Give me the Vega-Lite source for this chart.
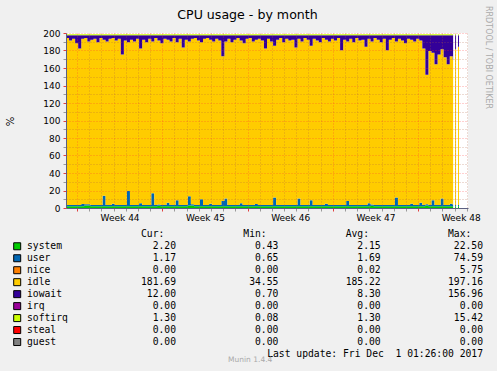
{
"$schema": "https://vega.github.io/schema/vega-lite/v6.json",
"width": 402, "height": 175,
"autosize": {"type": "none"},
"padding": {"left": 66, "top": 33, "right": 29, "bottom": 163},
"background": "#f0f0f0",
"title": {"text": "CPU usage - by month", "font": "DejaVu Sans", "fontSize": 12.6, "fontWeight": "normal", "color": "#000000", "anchor": "middle", "dx": -19.5, "dy": 13.8, "offset": -12.5, "baseline": "alphabetic"},
"config": {"view": {"stroke": null, "fill": "#ffffff"}, "font": "DejaVu Sans"},
"datasets": {
"series": [
{"name": "system", "idx": 0, "cur": 2.20, "min": 0.43, "avg": 2.15, "max": 22.50},
{"name": "user", "idx": 1, "cur": 1.17, "min": 0.65, "avg": 1.69, "max": 74.59},
{"name": "nice", "idx": 2, "cur": 0.00, "min": 0.00, "avg": 0.02, "max": 5.75},
{"name": "idle", "idx": 3, "cur": 181.69, "min": 34.55, "avg": 185.22, "max": 197.16},
{"name": "iowait", "idx": 4, "cur": 12.00, "min": 0.70, "avg": 8.30, "max": 156.96},
{"name": "irq", "idx": 5, "cur": 0.00, "min": 0.00, "avg": 0.00, "max": 0.00},
{"name": "softirq", "idx": 6, "cur": 1.30, "min": 0.08, "avg": 1.30, "max": 15.42},
{"name": "steal", "idx": 7, "cur": 0.00, "min": 0.00, "avg": 0.00, "max": 0.00},
{"name": "guest", "idx": 8, "cur": 0.00, "min": 0.00, "avg": 0.00, "max": 0.00}
],
"heads": [{"col": "cur", "label": "Cur:"}, {"col": "min", "label": "Min:"}, {"col": "avg", "label": "Avg:"}, {"col": "max", "label": "Max:"}],
"foot": [{"label": "Last update: Fri Dec\u00a0 1 01:26:00 2017"}],
"brand": [{"label": "Munin 1.4.4"}],
"cpu": [
{"t":-0.9,"system":2,"user":1.4,"idle":191,"iowait":3,"softirq":1.3},
{"t":-0.65,"system":2,"user":1.4,"idle":188,"iowait":6,"softirq":1.3},
{"t":-0.4,"system":2,"user":1.4,"idle":190,"iowait":4,"softirq":1.3},
{"t":-0.15,"system":2,"user":1.4,"idle":185,"iowait":9,"softirq":1.3},
{"t":0.1,"system":2,"user":1.4,"idle":179,"iowait":15,"softirq":1.3},
{"t":0.35,"system":2,"user":2.5,"idle":188.9,"iowait":4,"softirq":1.3},
{"t":0.6,"system":3,"user":1.4,"idle":190,"iowait":3,"softirq":1.3},
{"t":0.85,"system":3,"user":1.4,"idle":186,"iowait":7,"softirq":1.3},
{"t":1.1,"system":2,"user":1.4,"idle":189,"iowait":5,"softirq":1.3},
{"t":1.35,"system":2,"user":1.4,"idle":190,"iowait":4,"softirq":1.3},
{"t":1.6,"system":2,"user":1.4,"idle":186,"iowait":8,"softirq":1.3},
{"t":1.85,"system":2,"user":1.4,"idle":191,"iowait":3,"softirq":1.3},
{"t":2.1,"system":2,"user":12,"idle":178.4,"iowait":5,"softirq":1.3},
{"t":2.35,"system":2,"user":1.4,"idle":187,"iowait":7,"softirq":1.3},
{"t":2.6,"system":2,"user":1.4,"idle":190,"iowait":4,"softirq":1.3},
{"t":2.85,"system":2,"user":3,"idle":189.4,"iowait":3,"softirq":1.3},
{"t":3.1,"system":2,"user":1.4,"idle":188,"iowait":6,"softirq":1.3},
{"t":3.35,"system":2,"user":1.4,"idle":190,"iowait":4,"softirq":1.3},
{"t":3.6,"system":2,"user":1.4,"idle":172,"iowait":22,"softirq":1.3},
{"t":3.85,"system":2,"user":1.4,"idle":188,"iowait":6,"softirq":1.3},
{"t":4.1,"system":2,"user":17.5,"idle":169.9,"iowait":8,"softirq":1.3},
{"t":4.35,"system":2,"user":1.4,"idle":189,"iowait":5,"softirq":1.3},
{"t":4.6,"system":2,"user":1.4,"idle":187,"iowait":7,"softirq":1.3},
{"t":4.85,"system":2,"user":1.4,"idle":190,"iowait":4,"softirq":1.3},
{"t":5.1,"system":2,"user":3.5,"idle":176.9,"iowait":15,"softirq":1.3},
{"t":5.35,"system":2,"user":1.4,"idle":189,"iowait":5,"softirq":1.3},
{"t":5.6,"system":2,"user":1.4,"idle":186,"iowait":8,"softirq":1.3},
{"t":5.85,"system":2,"user":1.4,"idle":190,"iowait":4,"softirq":1.3},
{"t":6.1,"system":2,"user":15,"idle":173.4,"iowait":7,"softirq":1.3},
{"t":6.35,"system":2,"user":1.4,"idle":191,"iowait":3,"softirq":1.3},
{"t":6.6,"system":2.6,"user":1.4,"idle":187.4,"iowait":6,"softirq":1.3},
{"t":6.85,"system":2,"user":1.4,"idle":185,"iowait":9,"softirq":1.3},
{"t":7.1,"system":2,"user":1.4,"idle":190,"iowait":4,"softirq":1.3},
{"t":7.35,"system":2,"user":4,"idle":186.4,"iowait":5,"softirq":1.3},
{"t":7.6,"system":2,"user":1.4,"idle":187,"iowait":7,"softirq":1.3},
{"t":7.85,"system":2,"user":1.4,"idle":191,"iowait":3,"softirq":1.3},
{"t":8.1,"system":2,"user":7,"idle":180.4,"iowait":8,"softirq":1.3},
{"t":8.35,"system":2,"user":1.4,"idle":190,"iowait":4,"softirq":1.3},
{"t":8.6,"system":2,"user":1.4,"idle":180,"iowait":14,"softirq":1.3},
{"t":8.85,"system":2,"user":1.4,"idle":189,"iowait":5,"softirq":1.3},
{"t":9.1,"system":3,"user":10.5,"idle":176.9,"iowait":7,"softirq":1.3},
{"t":9.35,"system":2.8,"user":1.4,"idle":189.2,"iowait":4,"softirq":1.3},
{"t":9.6,"system":2,"user":1.4,"idle":191,"iowait":3,"softirq":1.3},
{"t":9.85,"system":2,"user":1.4,"idle":188,"iowait":6,"softirq":1.3},
{"t":10.1,"system":2,"user":8,"idle":179.4,"iowait":8,"softirq":1.3},
{"t":10.35,"system":2,"user":1.4,"idle":190,"iowait":4,"softirq":1.3},
{"t":10.6,"system":2,"user":1.4,"idle":191,"iowait":3,"softirq":1.3},
{"t":10.85,"system":2,"user":3,"idle":187.4,"iowait":5,"softirq":1.3},
{"t":11.1,"system":2,"user":1.4,"idle":187,"iowait":7,"softirq":1.3},
{"t":11.35,"system":2,"user":1.4,"idle":190,"iowait":4,"softirq":1.3},
{"t":11.6,"system":2,"user":1.4,"idle":188,"iowait":6,"softirq":1.3},
{"t":11.85,"system":2,"user":6,"idle":165.4,"iowait":24,"softirq":1.3},
{"t":12.1,"system":2,"user":9,"idle":179.4,"iowait":7,"softirq":1.3},
{"t":12.35,"system":2,"user":1.4,"idle":190,"iowait":4,"softirq":1.3},
{"t":12.6,"system":2,"user":1.4,"idle":186,"iowait":8,"softirq":1.3},
{"t":12.85,"system":2,"user":1.4,"idle":189,"iowait":5,"softirq":1.3},
{"t":13.1,"system":2,"user":1.4,"idle":191,"iowait":3,"softirq":1.3},
{"t":13.35,"system":2,"user":3.5,"idle":185.9,"iowait":6,"softirq":1.3},
{"t":13.6,"system":2,"user":1.4,"idle":185,"iowait":9,"softirq":1.3},
{"t":13.85,"system":2,"user":1.4,"idle":190,"iowait":4,"softirq":1.3},
{"t":14.1,"system":2,"user":1.4,"idle":191,"iowait":3,"softirq":1.3},
{"t":14.35,"system":2,"user":1.4,"idle":187,"iowait":7,"softirq":1.3},
{"t":14.6,"system":2,"user":2.5,"idle":187.9,"iowait":5,"softirq":1.3},
{"t":14.85,"system":2,"user":1.4,"idle":190,"iowait":4,"softirq":1.3},
{"t":15.1,"system":2,"user":1.4,"idle":188,"iowait":6,"softirq":1.3},
{"t":15.35,"system":2,"user":1.4,"idle":179,"iowait":15,"softirq":1.3},
{"t":15.6,"system":2,"user":1.4,"idle":190,"iowait":4,"softirq":1.3},
{"t":15.85,"system":2,"user":1.4,"idle":187,"iowait":7,"softirq":1.3},
{"t":16.1,"system":2,"user":10,"idle":173.4,"iowait":12,"softirq":1.3},
{"t":16.35,"system":2,"user":1.4,"idle":189,"iowait":5,"softirq":1.3},
{"t":16.6,"system":2,"user":1.4,"idle":191,"iowait":3,"softirq":1.3},
{"t":16.85,"system":2,"user":1.4,"idle":186,"iowait":8,"softirq":1.3},
{"t":17.1,"system":2,"user":1.4,"idle":190,"iowait":4,"softirq":1.3},
{"t":17.35,"system":2,"user":1.4,"idle":188,"iowait":6,"softirq":1.3},
{"t":17.6,"system":2,"user":1.4,"idle":189,"iowait":5,"softirq":1.3},
{"t":17.85,"system":2,"user":1.4,"idle":180,"iowait":14,"softirq":1.3},
{"t":18.1,"system":2,"user":9,"idle":182.4,"iowait":4,"softirq":1.3},
{"t":18.35,"system":2,"user":1.4,"idle":187,"iowait":7,"softirq":1.3},
{"t":18.6,"system":2,"user":1.4,"idle":191,"iowait":3,"softirq":1.3},
{"t":18.85,"system":2,"user":1.4,"idle":189,"iowait":5,"softirq":1.3},
{"t":19.1,"system":2,"user":7,"idle":176.4,"iowait":12,"softirq":1.3},
{"t":19.35,"system":2,"user":1.4,"idle":190,"iowait":4,"softirq":1.3},
{"t":19.6,"system":2,"user":1.4,"idle":188,"iowait":6,"softirq":1.3},
{"t":19.85,"system":2,"user":1.4,"idle":186,"iowait":8,"softirq":1.3},
{"t":20.1,"system":2,"user":1.4,"idle":191,"iowait":3,"softirq":1.3},
{"t":20.35,"system":2,"user":3,"idle":187.4,"iowait":5,"softirq":1.3},
{"t":20.6,"system":2,"user":1.4,"idle":187,"iowait":7,"softirq":1.3},
{"t":20.85,"system":2,"user":1.4,"idle":190,"iowait":4,"softirq":1.3},
{"t":21.1,"system":2,"user":1.4,"idle":188,"iowait":6,"softirq":1.3},
{"t":21.35,"system":2,"user":1.4,"idle":191,"iowait":3,"softirq":1.3},
{"t":21.6,"system":2,"user":1.4,"idle":177,"iowait":17,"softirq":1.3},
{"t":21.85,"system":2,"user":1.4,"idle":189,"iowait":5,"softirq":1.3},
{"t":22.1,"system":2,"user":6,"idle":182.4,"iowait":7,"softirq":1.3},
{"t":22.35,"system":2,"user":1.4,"idle":190,"iowait":4,"softirq":1.3},
{"t":22.6,"system":2,"user":1.4,"idle":186,"iowait":8,"softirq":1.3},
{"t":22.85,"system":2,"user":1.4,"idle":191,"iowait":3,"softirq":1.3},
{"t":23.1,"system":2,"user":1.4,"idle":188,"iowait":6,"softirq":1.3},
{"t":23.35,"system":2,"user":1.4,"idle":189,"iowait":5,"softirq":1.3},
{"t":23.6,"system":2,"user":1.4,"idle":181,"iowait":13,"softirq":1.3},
{"t":23.85,"system":2,"user":3.5,"idle":187.9,"iowait":4,"softirq":1.3},
{"t":24.1,"system":2.6,"user":1.4,"idle":186.4,"iowait":7,"softirq":1.3},
{"t":24.35,"system":2,"user":1.4,"idle":191,"iowait":3,"softirq":1.3},
{"t":24.6,"system":2,"user":1.4,"idle":189,"iowait":5,"softirq":1.3},
{"t":24.85,"system":2,"user":1.4,"idle":186,"iowait":8,"softirq":1.3},
{"t":25.1,"system":2,"user":1.4,"idle":190,"iowait":4,"softirq":1.3},
{"t":25.35,"system":2,"user":1.4,"idle":177,"iowait":17,"softirq":1.3},
{"t":25.6,"system":2,"user":1.4,"idle":189,"iowait":5,"softirq":1.3},
{"t":25.85,"system":2,"user":1.4,"idle":191,"iowait":3,"softirq":1.3},
{"t":26.1,"system":2,"user":10,"idle":178.4,"iowait":7,"softirq":1.3},
{"t":26.35,"system":2,"user":1.4,"idle":190,"iowait":4,"softirq":1.3},
{"t":26.6,"system":2,"user":1.4,"idle":188,"iowait":6,"softirq":1.3},
{"t":26.85,"system":2,"user":1.4,"idle":185,"iowait":9,"softirq":1.3},
{"t":27.1,"system":2,"user":1.4,"idle":190,"iowait":4,"softirq":1.3},
{"t":27.35,"system":2,"user":3,"idle":187.4,"iowait":5,"softirq":1.3},
{"t":27.6,"system":2,"user":1.4,"idle":187,"iowait":7,"softirq":1.3},
{"t":27.85,"system":2,"user":1.4,"idle":190,"iowait":4,"softirq":1.3},
{"t":28.1,"system":2,"user":4,"idle":185.4,"iowait":6,"softirq":1.3},
{"t":28.35,"system":2,"user":1.4,"idle":179,"iowait":15,"softirq":1.3},
{"t":28.6,"system":2.8,"user":1.4,"idle":148.2,"iowait":45,"softirq":1.3},
{"t":28.85,"system":2,"user":1.4,"idle":176,"iowait":18,"softirq":1.3},
{"t":29.1,"system":2,"user":7,"idle":168.4,"iowait":20,"softirq":1.3},
{"t":29.35,"system":2,"user":1.4,"idle":161,"iowait":33,"softirq":1.3},
{"t":29.6,"system":2,"user":1.4,"idle":172,"iowait":22,"softirq":1.3},
{"t":29.85,"system":2,"user":9,"idle":170.4,"iowait":16,"softirq":1.3},
{"t":30.1,"system":2,"user":1.4,"idle":169,"iowait":25,"softirq":1.3},
{"t":30.35,"system":2,"user":1.4,"idle":161,"iowait":33,"softirq":1.3},
{"t":30.6,"system":2,"user":3,"idle":168.4,"iowait":24,"softirq":1.3},
{"t":30.85,"system":2,"user":1.4,"idle":166,"iowait":28,"softirq":1.3},
{"t":30.88,"system":0,"user":0,"idle":0,"iowait":0,"softirq":0},
{"t":31.04,"system":2,"user":1.4,"idle":178,"iowait":16,"softirq":1.3},
{"t":31.12,"system":0,"user":0,"idle":0,"iowait":0,"softirq":0},
{"t":31.28,"system":2,"user":1.4,"idle":181,"iowait":13,"softirq":1.3},
{"t":31.36,"system":0,"user":0,"idle":0,"iowait":0,"softirq":0}
]
},
"layer": [
{
"data": {"name": "cpu"},
"transform": [
{"fold": ["system", "user", "idle", "iowait", "softirq"], "as": ["key", "value"]},
{"lookup": "key", "from": {"data": {"name": "series"}, "key": "name", "fields": ["idx"]}}
],
"mark": {"type": "area", "interpolate": "step-after"},
"encoding": {
"x": {"field": "t", "type": "quantitative", "scale": {"domain": [-0.9, 32.1], "nice": false, "zero": false},
"axis": {"values": [0,1,2,3,4,5,6,7,8,9,10,11,12,13,14,15,16,17,18,19,20,21,22,23,24,25,26,27,28,29,30,31,32,3.5,10.5,17.5,24.5,31.5],
"title": null, "zindex": 1, "grid": true, "gridDash": [1, 2],
"gridColor": {"condition": {"test": "datum.value % 7 === 0", "value": "#ff3030"}, "value": "#b06040"},
"gridOpacity": {"condition": {"test": "datum.value % 1 !== 0", "value": 0}, "value": 0.45},
"ticks": true, "tickSize": 3,
"tickColor": {"condition": {"test": "datum.value % 7 === 0", "value": "#e04040"}, "value": "#999999"},
"tickOpacity": {"condition": {"test": "datum.value % 1 !== 0", "value": 0}, "value": 1},
"labelExpr": "datum.value === 3.5 ? 'Week 44' : datum.value === 10.5 ? 'Week 45' : datum.value === 17.5 ? 'Week 46' : datum.value === 24.5 ? 'Week 47' : datum.value === 31.5 ? 'Week 48' : ''",
"labelOverlap": false, "labelFlush": false, "labelBound": false,
"labelFont": "DejaVu Sans", "labelFontSize": 9, "labelColor": "#000000", "labelBaseline": "middle", "labelPadding": 6.5,
"domainColor": "#5c6080", "domainWidth": 1}},
"y": {"field": "value", "type": "quantitative", "stack": "zero", "scale": {"domain": [0, 200], "nice": false},
"axis": {"values": [0,10,20,30,40,50,60,70,80,90,100,110,120,130,140,150,160,170,180,190,200],
"title": "%", "titleX": -56, "titleY": 88, "titleFont": "DejaVu Sans", "titleFontSize": 10, "titleFontWeight": "normal", "titleColor": "#000000", "titleAlign": "center", "titleBaseline": "middle",
"zindex": 1, "grid": true, "gridDash": [1, 2],
"gridColor": {"condition": {"test": "datum.value % 20 === 0", "value": "#ff3030"}, "value": "#b06040"},
"gridOpacity": 0.45,
"tickSize": 3,
"tickColor": {"condition": {"test": "datum.value % 20 === 0", "value": "#e04040"}, "value": "#999999"},
"labelExpr": "datum.value % 20 === 0 ? datum.label : ''",
"labelOverlap": false, "labelFont": "DejaVu Sans", "labelFontSize": 9, "labelColor": "#000000", "labelPadding": 3,
"domainColor": "#5c6080", "domainWidth": 1}},
"color": {"field": "key", "type": "nominal",
"scale": {"domain": ["system","user","nice","idle","iowait","irq","softirq","steal","guest"], "range": ["#00CC00","#0066B3","#FF8000","#FFCC00","#330099","#990099","#CCFF00","#FF0000","#808080"]},
"legend": null},
"order": {"field": "idx", "type": "quantitative"}
}
},
{
"layer": [
{
"data": {"name": "series"},
"mark": {"type": "point", "shape": "square", "filled": true, "size": 49, "stroke": "#000000", "strokeWidth": 1, "opacity": 1, "xOffset": -56.5},
"encoding": {
"x": {"datum": "lab", "type": "nominal", "scale": {"type": "point", "domain": ["lab","cur","min","avg","max"], "range": [7.7, 417], "padding": 0}, "axis": null},
"y": {"field": "name", "type": "nominal", "scale": {"type": "point", "domain": ["header","system","user","nice","idle","iowait","irq","softirq","steal","guest","footer"], "range": [201.3, 321], "padding": 0},
"axis": {"orient": "right", "labels": false, "ticks": false, "domain": false, "grid": false, "title": "RRDTOOL / TOBI OETIKER", "titleX": 19, "titleY": 24, "titleAngle": 90, "titleFont": "DejaVu Sans", "titleFontSize": 8, "titleFontWeight": "normal", "titleColor": "#aaaaaa", "titleAlign": "center", "titleBaseline": "middle"}},
"color": {"field": "name", "type": "nominal",
"scale": {"domain": ["system","user","nice","idle","iowait","irq","softirq","steal","guest"], "range": ["#00CC00","#0066B3","#FF8000","#FFCC00","#330099","#990099","#CCFF00","#FF0000","#808080"]},
"legend": null}
}
},
{
"data": {"name": "series"},
"mark": {"type": "text", "align": "left", "baseline": "middle", "dx": -46.7, "font": "DejaVu Sans Mono", "fontSize": 9.7, "color": "#000000"},
"encoding": {
"x": {"datum": "lab", "type": "nominal", "scale": {"type": "point", "domain": ["lab","cur","min","avg","max"], "range": [7.7, 417], "padding": 0}, "axis": null},
"y": {"field": "name", "type": "nominal", "scale": {"type": "point", "domain": ["header","system","user","nice","idle","iowait","irq","softirq","steal","guest","footer"], "range": [201.3, 321], "padding": 0},
"axis": {"orient": "right", "labels": false, "ticks": false, "domain": false, "grid": false, "title": "RRDTOOL / TOBI OETIKER", "titleX": 19, "titleY": 24, "titleAngle": 90, "titleFont": "DejaVu Sans", "titleFontSize": 8, "titleFontWeight": "normal", "titleColor": "#aaaaaa", "titleAlign": "center", "titleBaseline": "middle"}},
"text": {"field": "name", "type": "nominal"}
}
},
{
"data": {"name": "series"},
"transform": [{"fold": ["cur", "min", "avg", "max"], "as": ["col", "val"]}],
"mark": {"type": "text", "align": "right", "baseline": "middle", "font": "DejaVu Sans Mono", "fontSize": 9.7, "color": "#000000"},
"encoding": {
"x": {"field": "col", "type": "nominal", "scale": {"type": "point", "domain": ["lab","cur","min","avg","max"], "range": [7.7, 417], "padding": 0}, "axis": null},
"y": {"field": "name", "type": "nominal", "scale": {"type": "point", "domain": ["header","system","user","nice","idle","iowait","irq","softirq","steal","guest","footer"], "range": [201.3, 321], "padding": 0},
"axis": {"orient": "right", "labels": false, "ticks": false, "domain": false, "grid": false, "title": "RRDTOOL / TOBI OETIKER", "titleX": 19, "titleY": 24, "titleAngle": 90, "titleFont": "DejaVu Sans", "titleFontSize": 8, "titleFontWeight": "normal", "titleColor": "#aaaaaa", "titleAlign": "center", "titleBaseline": "middle"}},
"text": {"field": "val", "type": "quantitative", "format": ".2f"}
}
},
{
"data": {"name": "heads"},
"mark": {"type": "text", "align": "left", "baseline": "middle", "dx": -35, "font": "DejaVu Sans Mono", "fontSize": 9.7, "color": "#000000"},
"encoding": {
"x": {"field": "col", "type": "nominal", "scale": {"type": "point", "domain": ["lab","cur","min","avg","max"], "range": [7.7, 417], "padding": 0}, "axis": null},
"y": {"datum": "header", "type": "nominal", "scale": {"type": "point", "domain": ["header","system","user","nice","idle","iowait","irq","softirq","steal","guest","footer"], "range": [201.3, 321], "padding": 0},
"axis": {"orient": "right", "labels": false, "ticks": false, "domain": false, "grid": false, "title": "RRDTOOL / TOBI OETIKER", "titleX": 19, "titleY": 24, "titleAngle": 90, "titleFont": "DejaVu Sans", "titleFontSize": 8, "titleFontWeight": "normal", "titleColor": "#aaaaaa", "titleAlign": "center", "titleBaseline": "middle"}},
"text": {"field": "label", "type": "nominal"}
}
},
{
"data": {"name": "foot"},
"mark": {"type": "text", "align": "right", "baseline": "middle", "font": "DejaVu Sans Mono", "fontSize": 9.7, "color": "#000000"},
"encoding": {
"x": {"datum": "max", "type": "nominal", "scale": {"type": "point", "domain": ["lab","cur","min","avg","max"], "range": [7.7, 417], "padding": 0}, "axis": null},
"y": {"datum": "footer", "type": "nominal", "scale": {"type": "point", "domain": ["header","system","user","nice","idle","iowait","irq","softirq","steal","guest","footer"], "range": [201.3, 321], "padding": 0},
"axis": {"orient": "right", "labels": false, "ticks": false, "domain": false, "grid": false, "title": "RRDTOOL / TOBI OETIKER", "titleX": 19, "titleY": 24, "titleAngle": 90, "titleFont": "DejaVu Sans", "titleFontSize": 8, "titleFontWeight": "normal", "titleColor": "#aaaaaa", "titleAlign": "center", "titleBaseline": "middle"}},
"text": {"field": "label", "type": "nominal"}
}
},
{
"data": {"name": "brand"},
"mark": {"type": "text", "align": "right", "baseline": "middle", "dx": -6, "dy": 6, "font": "DejaVu Sans", "fontSize": 7.5, "color": "#aaaaaa"},
"encoding": {
"x": {"datum": "min", "type": "nominal", "scale": {"type": "point", "domain": ["lab","cur","min","avg","max"], "range": [7.7, 417], "padding": 0}, "axis": null},
"y": {"datum": "footer", "type": "nominal", "scale": {"type": "point", "domain": ["header","system","user","nice","idle","iowait","irq","softirq","steal","guest","footer"], "range": [201.3, 321], "padding": 0},
"axis": {"orient": "right", "labels": false, "ticks": false, "domain": false, "grid": false, "title": "RRDTOOL / TOBI OETIKER", "titleX": 19, "titleY": 24, "titleAngle": 90, "titleFont": "DejaVu Sans", "titleFontSize": 8, "titleFontWeight": "normal", "titleColor": "#aaaaaa", "titleAlign": "center", "titleBaseline": "middle"}},
"text": {"field": "label", "type": "nominal"}
}
}
]
}
],
"resolve": {"scale": {"x": "independent", "y": "independent"}}
}
